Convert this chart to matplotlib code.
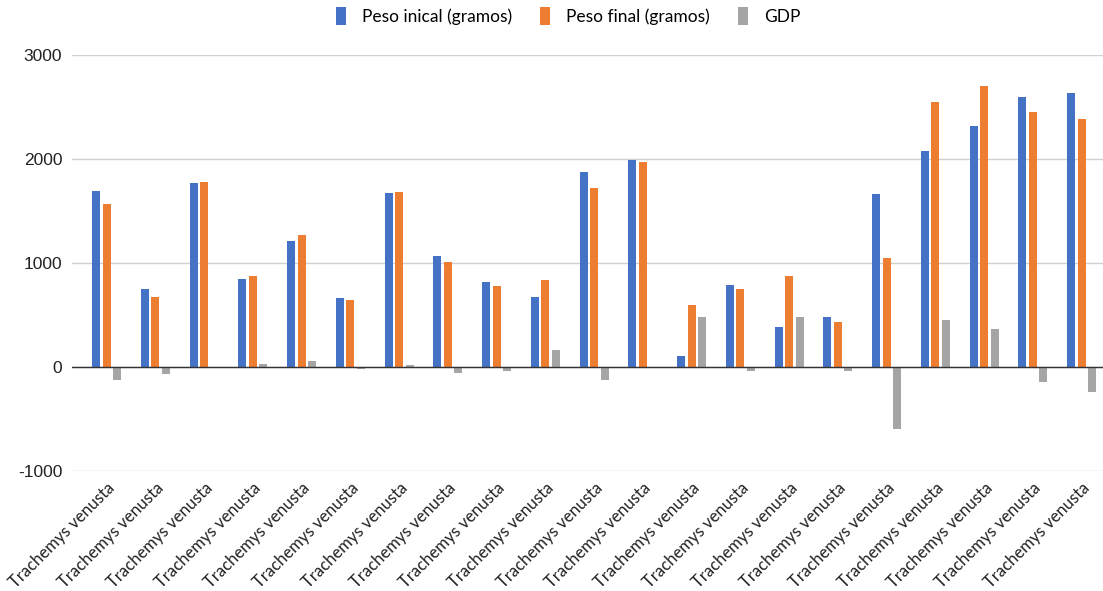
import matplotlib
matplotlib.use("Agg")
import matplotlib.pyplot as plt
import numpy as np
from matplotlib.patches import Rectangle

categories = ["Trachemys venusta"] * 21
peso_inicial = [1698, 750, 1772, 852, 1217, 663, 1673, 1070, 820, 676, 1875,
                1990, 106, 791, 385, 487, 1667, 2077, 2323, 2599, 2635]
peso_final = [1567, 679, 1785, 881, 1275, 647, 1683, 1010, 779, 837, 1727,
              1974, 602, 750, 878, 438, 1054, 2548, 2705, 2458, 2385]
gdp = [-120, -70, 5, 32, 63, -15, 20, -55, -40, 163, -125,
       -10, 487, -40, 487, -35, -600, 455, 368, -140, -240]
series_names = ["Peso inical (gramos)", "Peso final (gramos)", "GDP"]
colors = ["#4472c4", "#ed7d31", "#a5a5a5"]
yticks = [-1000, 0, 1000, 2000, 3000]

W, H = 1103, 591
fig = plt.figure(figsize=(W / 100, H / 100), dpi=100)
ax = fig.add_axes([72 / W, 1 - 471 / H, (1103 - 72) / W, (471 - 55.5) / H])

x = np.arange(len(categories))
bw = 0.165
off = 0.215
for k, (vals, c) in enumerate(zip([peso_inicial, peso_final, gdp], colors)):
    ax.bar(x + (k - 1) * off, vals, width=bw, color=c, label=series_names[k],
           zorder=3, linewidth=0)

ax.set_xlim(-0.712, 20.44)
ax.set_ylim(-1000, 3000)
ax.set_yticks(yticks)
ax.set_yticklabels([str(v) for v in yticks], fontsize=12.5,
                   family="Liberation Sans", color="#222222")
ax.tick_params(axis="y", length=0, pad=7)
ax.grid(axis="y", color="#d0d0d0", linewidth=1, zorder=0)
ax.axhline(0, color="#333333", linewidth=1, zorder=4)
for s in ax.spines.values():
    s.set_visible(False)

ax.set_xticks(x)
ax.set_xticklabels(categories, rotation=45, ha="right", rotation_mode="anchor",
                   fontsize=12, family="Lato", color="#222222")
ax.tick_params(axis="x", length=0, pad=6)

# legend
handles = [Rectangle((0, 0), 1, 1, facecolor=c, edgecolor="none") for c in colors]
fig.legend(handles, series_names, loc="center", bbox_to_anchor=(0.515, 1 - 16 / H),
           ncol=3, frameon=False, prop={"family": "Lato", "size": 12.5},
           handlelength=0.6, handleheight=1.2, handletextpad=0.9, columnspacing=1.6)

fig.savefig("out.png", dpi=100)
